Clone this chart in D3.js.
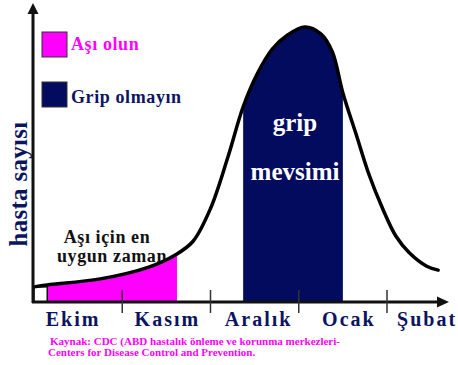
<!DOCTYPE html>
<html><head><meta charset="utf-8">
<script src="https://cdn.jsdelivr.net/npm/d3@7"></script>
</head><body style="margin:0">
<svg id="c" width="458" height="365"></svg>
<script>
// ---- data ----
const months = ["Ekim", "Kasım", "Aralık", "Ocak", "Şubat"];
const tickMonths = [1, 2, 3, 4];
const curveMonths = [0, 0.15, 0.75, 1.3, 1.6, 1.8, 2.0, 2.2, 2.37, 2.53, 2.7, 2.87, 3.07, 3.25, 3.38, 3.5, 3.65, 3.8, 3.95, 4.1, 4.25, 4.45, 4.58];
const curveValues = [5.5, 6.2, 8.4, 12.7, 17.1, 22, 34, 53, 71, 83, 92, 97, 100, 97.5, 91, 76, 61, 46, 34, 24, 18, 13, 11.6];
const vaccineWindow = [0.15, 1.62];
const fluSeason = [2.37, 3.5];
const legendLabels = ["Aşı olun", "Grip olmayın"];
const yLabel = "hasta sayısı";
const annotation = ["Aşı için en", "uygun zaman"];
const seasonLabel = ["grip", "mevsimi"];
const sourceLines = ["Kaynak: CDC (ABD hastalık önleme ve korunma merkezleri-", "Centers for Disease Control and Prevention."];

// ---- style ----
const MAGENTA = "#ff00ff", NAVY = "#020b5e", TXT = "#0b145e";

const svg = d3.select("#c");
const x = d3.scaleLinear().domain([0, 4]).range([34, 387]);
const y = d3.scaleLinear().domain([0, 100]).range([302, 27]);
const pts = curveMonths.map((m, i) => [m, curveValues[i]]);
const crv = d3.curveCatmullRom.alpha(0.5);

function txt(sel, size, ls) {
  return sel.style("font-family", '"Liberation Serif"').style("font-weight", "bold")
    .style("font-size", size + "px").style("letter-spacing", (ls || 0) + "px");
}

const defs = svg.append("defs");
function clip(id, r) {
  defs.append("clipPath").attr("id", id).append("rect")
    .attr("x", x(r[0])).attr("y", 0).attr("width", x(r[1]) - x(r[0])).attr("height", 365);
}
clip("cv", vaccineWindow); clip("cf", fluSeason);

const area = d3.area().x(d => x(d[0])).y0(y(0)).y1(d => y(d[1])).curve(crv);
svg.append("path").attr("d", area(pts)).attr("fill", MAGENTA).attr("clip-path", "url(#cv)");
svg.append("path").attr("d", area(pts)).attr("fill", NAVY).attr("clip-path", "url(#cf)");

// small box at origin
svg.append("rect").attr("x", x(0)).attr("y", y(curveValues[0]))
  .attr("width", x(vaccineWindow[0]) - x(0)).attr("height", y(0) - y(curveValues[0]))
  .attr("fill", "#fff").attr("stroke", "#111").attr("stroke-width", 1.5);

// curve
const line = d3.line().x(d => x(d[0])).y(d => y(d[1])).curve(crv);
svg.append("path").attr("d", line(pts)).attr("fill", "none").attr("stroke", "#000")
  .attr("stroke-width", 3.5).attr("stroke-linecap", "round");

// axes
svg.append("line").attr("x1", 33).attr("x2", 33).attr("y1", 303).attr("y2", 10)
  .attr("stroke", "#111").attr("stroke-width", 3);
svg.append("path").attr("d", "M33,3 L27.5,14 L38.5,14 Z").attr("fill", "#111");
svg.append("line").attr("x1", 32).attr("x2", 440).attr("y1", 302).attr("y2", 302)
  .attr("stroke", "#111").attr("stroke-width", 3);
svg.append("path").attr("d", "M449,302 L437,296.5 L437,307.5 Z").attr("fill", "#111");

svg.selectAll(".tick").data(tickMonths).join("line")
  .attr("x1", d => x(d)).attr("x2", d => x(d)).attr("y1", 290).attr("y2", 313)
  .attr("stroke", "#333").attr("stroke-width", 1.5);

// month labels
const labelNudge = [-5, 1, 4, 6, -4];
months.forEach((t, i) => {
  txt(svg.append("text"), 20, 2)
    .attr("x", x(i + 0.5) + labelNudge[i]).attr("y", 326)
    .attr("text-anchor", "middle").attr("fill", TXT).text(t);
});

// y label
txt(svg.append("text"), 25, 0.3).attr("transform", "translate(27,184) rotate(-90)")
  .attr("text-anchor", "middle").attr("fill", TXT).text(yLabel);

// legend
const legColors = [MAGENTA, NAVY], legTextColors = [MAGENTA, TXT];
const legY = [32, 82], legBase = [50, 103];
legendLabels.forEach((t, i) => {
  svg.append("rect").attr("x", 42).attr("y", legY[i]).attr("width", 25).attr("height", 25)
    .attr("fill", legColors[i]).attr("stroke", "#333").attr("stroke-width", 1);
  txt(svg.append("text"), 18, 0.6).attr("x", 71).attr("y", legBase[i])
    .attr("fill", legTextColors[i]).text(t);
});

// annotation
const annX = [107, 112], annY = [243, 262];
annotation.forEach((t, i) => {
  txt(svg.append("text"), 18, 0.6).attr("x", annX[i]).attr("y", annY[i]).attr("text-anchor", "middle")
    .attr("fill", "#111").text(t);
});

// season label
const seaY = [131, 180];
seasonLabel.forEach((t, i) => {
  txt(svg.append("text"), 25, 0).attr("x", 295).attr("y", seaY[i]).attr("text-anchor", "middle")
    .attr("fill", "#fff").text(t);
});

// source
const srcX = [50, 48], srcY = [345, 356];
sourceLines.forEach((t, i) => {
  txt(svg.append("text"), 11, 0).attr("x", srcX[i]).attr("y", srcY[i])
    .attr("fill", MAGENTA).text(t);
});
</script></body></html>
